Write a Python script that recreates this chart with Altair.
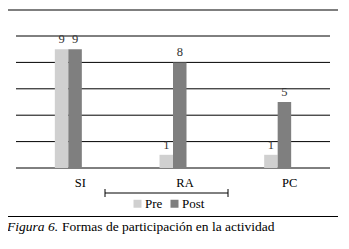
import altair as alt
import pandas as pd

categories = ["SI", "RA", "PC"]
pre_values = [9, 1, 1]
post_values = [9, 8, 5]
series = ["Pre", "Post"]
grid_values = [0, 2, 4, 6, 8, 10]
caption_italic = "Figura 6."
caption_text = "Formas de participación en la actividad"

rows = []
for c, a, b in zip(categories, pre_values, post_values):
    rows.append({"cat": c, "serie": "Pre", "val": a})
    rows.append({"cat": c, "serie": "Post", "val": b})
df = pd.DataFrame(rows)
grid_df = pd.DataFrame({"g": grid_values})
cat_df = pd.DataFrame({"cat": categories})

FONT = "'Liberation Serif', 'Times New Roman', Times, serif"
W, H = 333, 233
xscale = alt.Scale(domain=categories, range=[8, 322], paddingInner=0, paddingOuter=0)
yscale = alt.Scale(domain=[0, 10], range=[160, 28])
cscale = alt.Scale(domain=series, range=["#d0d0d0", "#7f7f7f"])

grid = alt.Chart(grid_df).mark_rule(color="#000000", strokeWidth=1).encode(
    y=alt.Y("g:Q", scale=yscale, axis=None),
    x=alt.value(8), x2=alt.value(322),
)

def bars_for(s, off):
    d = df[df.serie == s]
    b = alt.Chart(d).mark_bar(width=13.5, xOffset=off).encode(
        x=alt.X("cat:N", scale=xscale, axis=None, sort=categories),
        y=alt.Y("val:Q", scale=yscale, axis=None),
        color=alt.Color("serie:N", scale=cscale, sort=series,
                        legend=alt.Legend(title=None, orient="none", legendX=123, legendY=189,
                                          direction="horizontal", symbolType="square",
                                          symbolSize=64, symbolStrokeWidth=0,
                                          labelFont=FONT, labelFontSize=13,
                                          labelColor="#000000", columnPadding=5,
                                          labelOffset=1)),
    )
    t = alt.Chart(d).mark_text(font=FONT, fontSize=12.5, color="#333333",
                               baseline="bottom", dy=-3, xOffset=off).encode(
        x=alt.X("cat:N", scale=xscale, axis=None, sort=categories),
        y=alt.Y("val:Q", scale=yscale, axis=None),
        text="val:Q",
    )
    return b + t

cat_labels = alt.Chart(cat_df).mark_text(font=FONT, fontSize=12.5, color="#000000",
                                         baseline="alphabetic", xOffset=12).encode(
    x=alt.X("cat:N", scale=xscale, axis=None, sort=categories),
    y=alt.value(179),
    text="cat:N",
)

top_rule = alt.Chart(cat_df.head(1)).mark_rule(color="#000000", strokeWidth=1.2).encode(
    x=alt.value(-1), x2=alt.value(330), y=alt.value(2))
bottom_rule = alt.Chart(cat_df.head(1)).mark_rule(color="#000000", strokeWidth=1.2).encode(
    x=alt.value(-1), x2=alt.value(330), y=alt.value(208.5))
bracket = alt.Chart(cat_df.head(1)).mark_rule(color="#000000", strokeWidth=1).encode(
    x=alt.value(97), x2=alt.value(220), y=alt.value(185))
cap_l = alt.Chart(cat_df.head(1)).mark_rule(color="#000000", strokeWidth=1).encode(
    x=alt.value(97), y=alt.value(181), y2=alt.value(189))
cap_r = alt.Chart(cat_df.head(1)).mark_rule(color="#000000", strokeWidth=1).encode(
    x=alt.value(220), y=alt.value(181), y2=alt.value(189))

cap1 = alt.Chart(pd.DataFrame({"t": [caption_italic]})).mark_text(
    font=FONT, fontSize=13.5, fontStyle="italic", align="left", baseline="alphabetic",
    color="#000000").encode(x=alt.value(-1), y=alt.value(223), text="t:N")
cap2 = alt.Chart(pd.DataFrame({"t": [caption_text]})).mark_text(
    font=FONT, fontSize=13.5, align="left", baseline="alphabetic",
    color="#000000").encode(x=alt.value(54), y=alt.value(223), text="t:N")

chart = alt.layer(
    grid, bars_for("Pre", -6.75), bars_for("Post", 6.75), cat_labels,
    top_rule, bottom_rule, bracket, cap_l, cap_r, cap1, cap2,
).properties(
    width=W, height=H, autosize=alt.AutoSizeParams(type="none"), padding=0,
    background="#ffffff",
).configure_view(stroke=None)

chart.save("out.html", embed_options={"renderer": "svg", "actions": False})
